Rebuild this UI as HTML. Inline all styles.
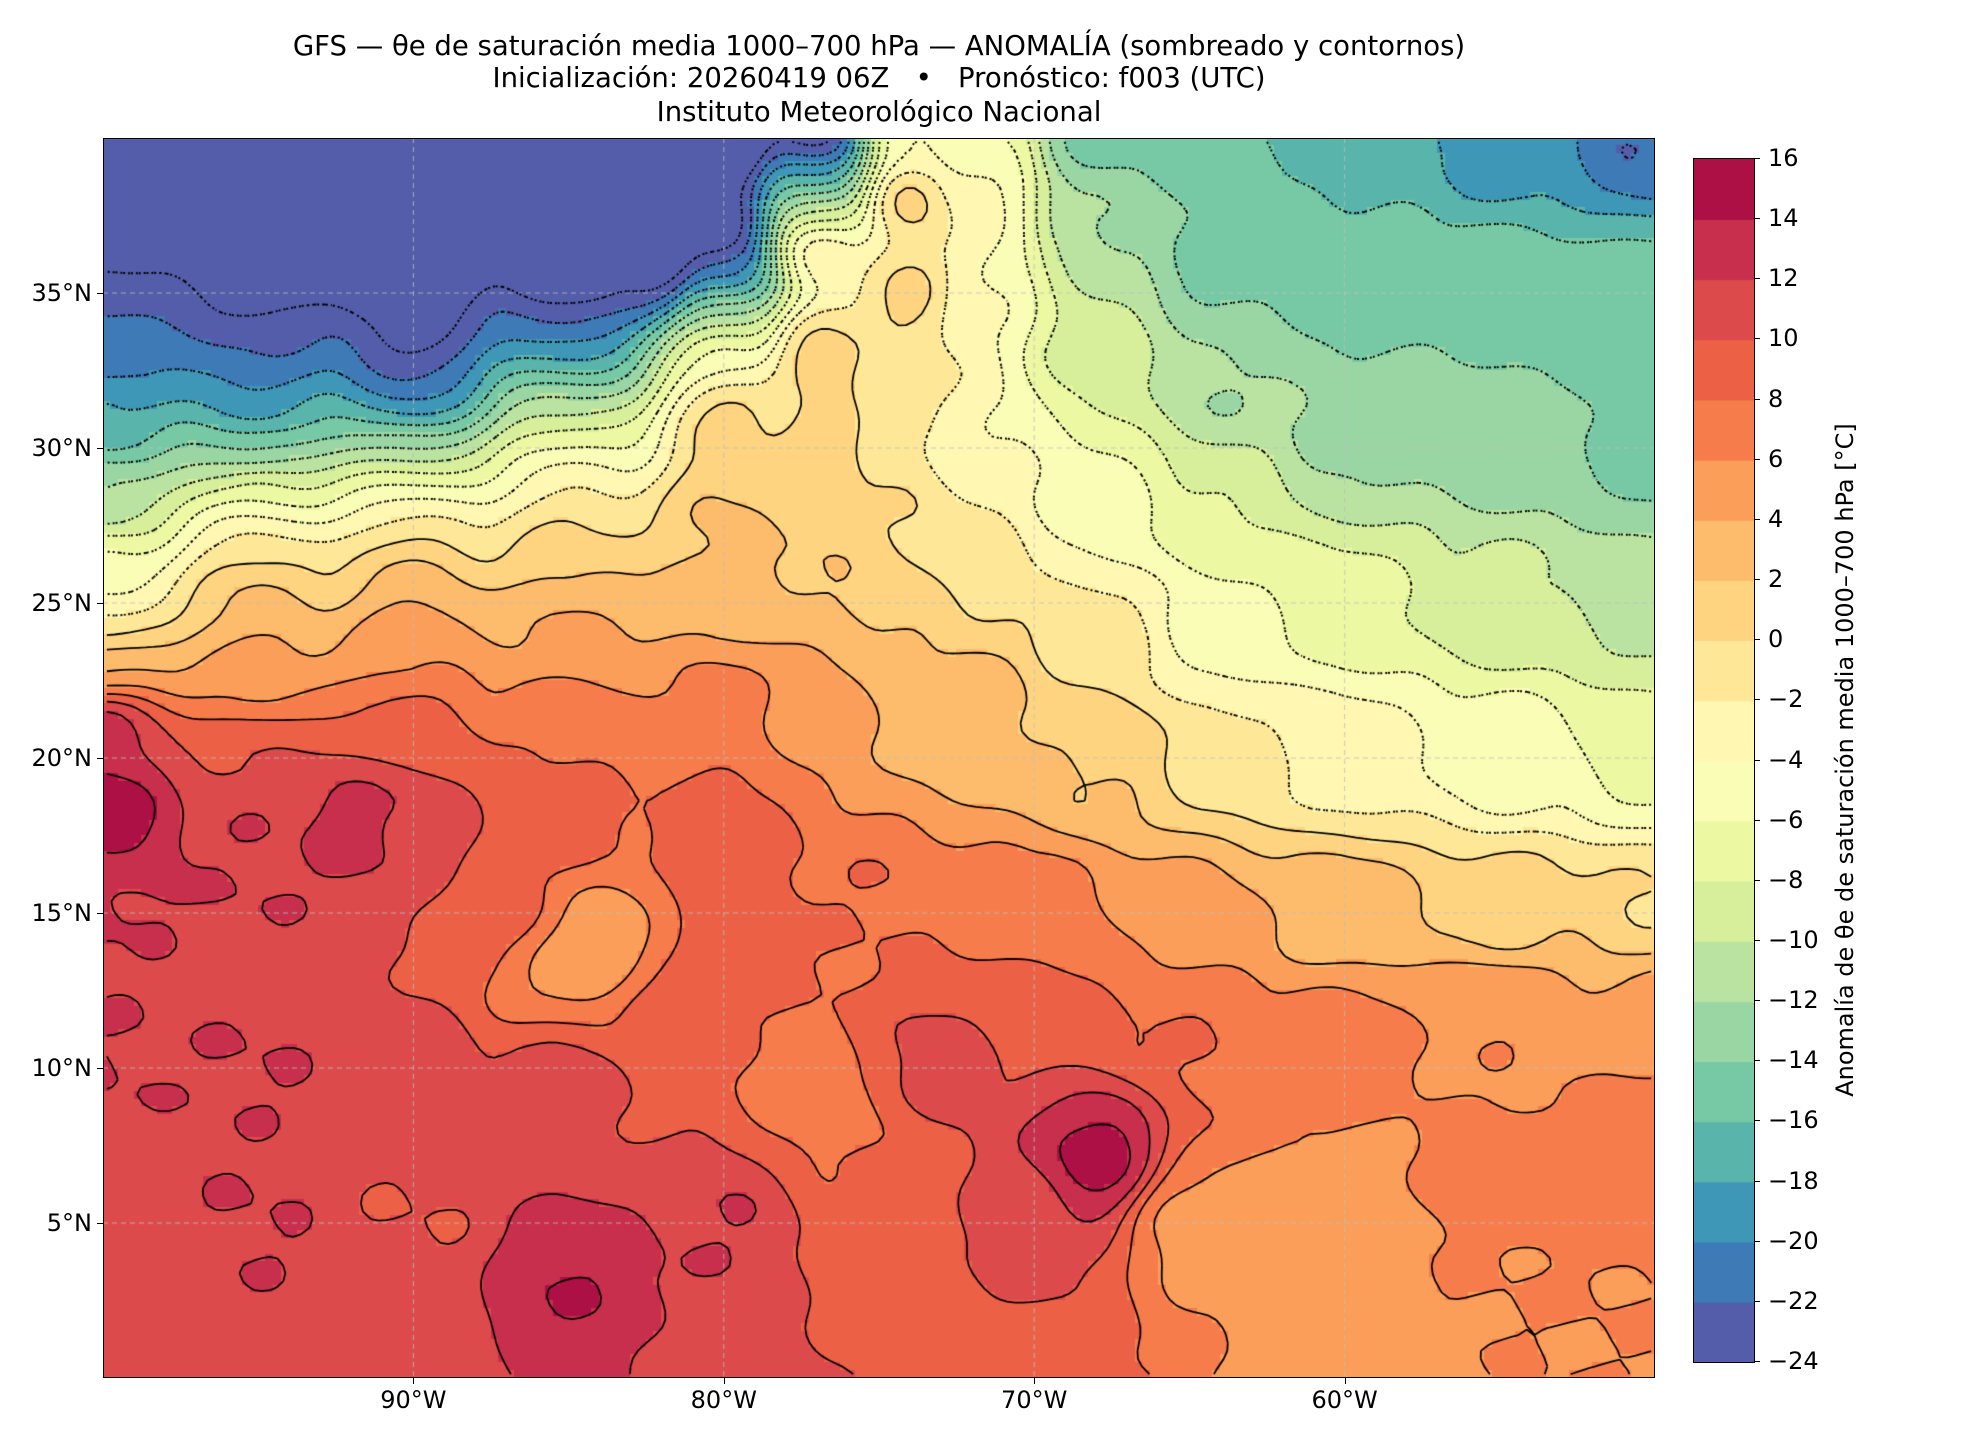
<!DOCTYPE html>
<html><head><meta charset="utf-8">
<style>
body{margin:0;background:#fff;width:1980px;height:1440px;position:relative;overflow:hidden;font-family:"DejaVu Sans","Liberation Sans",sans-serif;}
.t{position:absolute;left:0;width:1758px;text-align:center;font-size:27.5px;color:#000;line-height:32px;}
#plot{position:absolute;left:103px;top:138px;width:1552px;height:1240px;border:1.5px solid #000;box-sizing:border-box;}
canvas{position:absolute;}
.yl{position:absolute;font-size:24px;right:1888px;}
.xl{position:absolute;font-size:24px;top:1386px;width:120px;text-align:center;}
.cl{position:absolute;left:1768px;font-size:24px;}
</style></head><body>
<div class="t" style="top:30px">GFS — θe de saturación media 1000–700 hPa — ANOMALÍA (sombreado y contornos)</div>
<div class="t" style="top:62px">Inicialización: 20260419 06Z &nbsp; • &nbsp; Pronóstico: f003 (UTC)</div>
<div class="t" style="top:96px">Instituto Meteorológico Nacional</div>
<canvas id="c" width="1552" height="1240" style="left:103px;top:138px"></canvas>
<div id="plot"></div>
<canvas id="cb" width="60" height="1203" style="left:1693px;top:158px;border:1px solid #000"></canvas>
<div id="lab"></div>
<div style="position:absolute;left:1845px;top:760px;transform:translate(-50%,-50%) rotate(-90deg);font-size:24px;white-space:nowrap">Anomalía de θe de saturación media 1000–700 hPa [°C]</div>
<script>
var sp=[[94,79,162],[50,136,189],[102,194,165],[171,221,164],[230,245,152],[255,255,191],[254,224,139],[253,174,97],[244,109,67],[213,62,79],[158,1,66]];
function cmap(t){t=Math.max(0,Math.min(1,t))*10;var i=Math.min(9,Math.floor(t)),f=t-i,a=sp[i],b=sp[i+1];return 'rgb('+Math.round(a[0]+(b[0]-a[0])*f)+','+Math.round(a[1]+(b[1]-a[1])*f)+','+Math.round(a[2]+(b[2]-a[2])*f)+')';}
function lvcol(v){var k=Math.floor((v+24)/2);k=Math.max(0,Math.min(19,k));return cmap((k+0.5)/20);}
var P=[
[-100,40,-30],[-100,38,-30],[-100,36.5,-26],[-100,35,-22],[-100,33,-21],[-100,31,-18],[-100,28.5,-12],[-100,26,-6],[-100,24.5,-2],[-100,23,4],[-100,21,14],[-100,18,16],[-100,16,12],
[-95,40,-30],[-95,37,-30],[-95,34.5,-25],[-95,33,-22],[-95,31.5,-20],[-95,30,-15],[-95,28.5,-6],[-95,27,-1],[-95,25.5,3],[-95,23,5],[-95,20,10],[-95,18,12],
[-90,40,-30],[-90,36,-30],[-90,33.5,-26],[-90,32.3,-23],[-90,31.3,-20],[-90,30,-13],[-90,29,-6],[-90,28,-2],[-90,27,1],[-90,25.8,4],[-90,24,6],[-90,21,9],[-90,18,12],
[-85,40,-30],[-85,36,-30],[-85,34,-24],[-85,33,-18],[-85,31.5,-12],[-85,30.3,-6],[-85,29,-2],[-85,27.5,0.5],[-85,26,2.5],[-85,24,5],[-85,21,8],[-85,18,9],
[-82,38,-30],[-82,36,-27],
[-80,40,-30],[-80,37,-28],[-80,35.5,-22],[-80,34.3,-12],[-80,33.3,-3],[-80,31,1.5],[-80,28,2.5],[-80,25,3.5],[-80,22,7],[-80,18,9],
[-77,40,-28],[-77,38.7,-20],[-77,37.7,-8],[-77,36.5,0],[-77,33,2],[-77,30,1],[-77,26,2],[-77,22,5],
[-74,40,-4],[-74,38,2.5],[-74,35,1.5],[-74,32,-1],[-74,28,0],[-74,24,2],
[-72,40,-6],[-72,38,-3],[-72,35,-4],[-72,30,-4],[-72,26,-1],[-72,22,3],
[-68,40,-15],[-68,37,-12],[-68,33,-9],[-68,28,-5],[-68,24,-1],[-68,20,2],
[-64,40,-16],[-64,36,-15],[-64,32,-12],[-64,28,-8],[-64,24,-5],[-64,20,-1],
[-60,40,-17],[-60,35,-15],[-60,30,-12.5],[-60,25,-7.5],[-60,20,-3],
[-55,40,-19],[-55,35,-15],[-55,30,-13],[-55,25,-9.5],[-55,20,-5],
[-50,40,-22],[-50,35,-15],[-50,30,-15],[-50,25,-11],[-50,20,-7],
[-50,15,0],[-55,15,1],[-60,15,3],[-65,15,5],[-70,15,7],[-75,15,8],[-80,15,9],
[-50,12,5],[-55,12,6],[-60,11,7],[-65,11,8],[-70,12,9],[-73,10,11],[-77,9,7],[-75,7,8],
[-50,8,7],[-55,6,7],[-60,5,5],[-65,5,5],[-68,7,15],[-70,5,11],[-75,4,9],[-80,5,12],[-85,3,14],[-90,5,10],[-95,5,12],[-100,5,11],[-100,0,11],[-90,0,11],[-80,0,11],[-70,0,9],[-60,0,5],[-50,0,6],[-55,3,6],
[-85,10,11],[-90,10,11],[-95,10,12],[-100,10,12],[-85,13,5],[-84,14,4],[-87,15,9],[-82,12,9],[-92,18,13],[-95,16,12]];
function F(lo,la){var s=0,w=0;for(var i=0;i<P.length;i++){var dx=lo-P[i][0],dy=la-P[i][1],d=dx*dx+dy*dy;var q=1/Math.pow(d+1.5,2);s+=q*P[i][2];w+=q;}
return s/w+0.35*Math.sin(lo*1.3+la*0.7)*Math.cos(la*1.9-lo*0.5);}
var R=4,NX=50*R,NY=40*R,g=[];
for(var j=0;j<NY;j++){g[j]=[];for(var i=0;i<NX;i++)g[j][i]=F(-100+(i+0.5)/R,40-(j+0.5)/R);}
var c=document.getElementById('c').getContext('2d');var cw=1552/NX,ch=1240/NY;
for(var j=0;j<NY;j++)for(var i=0;i<NX;i++){c.fillStyle=lvcol(g[j][i]);c.fillRect(Math.floor(i*cw),Math.floor(j*ch),Math.ceil(cw)+1,Math.ceil(ch)+1);}
c.strokeStyle='rgba(190,190,190,0.8)';c.lineWidth=1;c.setLineDash([5,4]);
[-90,-80,-70,-60].forEach(function(l){var x=(l+100)*31.04;c.beginPath();c.moveTo(x,0);c.lineTo(x,1240);c.stroke();});
[5,10,15,20,25,30,35].forEach(function(l){var y=(40-l)*31;c.beginPath();c.moveTo(0,y);c.lineTo(1552,y);c.stroke();});
c.strokeStyle='#000';
function X(i){return (i+0.5)*cw;}function Y(j){return (j+0.5)*ch;}
for(var L=-24;L<=16;L+=2){c.beginPath();
for(var j=0;j<NY-1;j++)for(var i=0;i<NX-1;i++){
var a=g[j][i],b=g[j][i+1],d=g[j+1][i],e=g[j+1][i+1];var pts=[];
if((a<L)!=(b<L))pts.push([X(i)+cw*(L-a)/(b-a),Y(j)]);
if((b<L)!=(e<L))pts.push([X(i+1),Y(j)+ch*(L-b)/(e-b)]);
if((d<L)!=(e<L))pts.push([X(i)+cw*(L-d)/(e-d),Y(j+1)]);
if((a<L)!=(d<L))pts.push([X(i),Y(j)+ch*(L-a)/(d-a)]);
if(pts.length>=2){c.moveTo(pts[0][0],pts[0][1]);c.lineTo(pts[1][0],pts[1][1]);}
if(pts.length==4){c.moveTo(pts[2][0],pts[2][1]);c.lineTo(pts[3][0],pts[3][1]);}}
if(L<0){c.setLineDash([2,3]);c.lineWidth=2;}else{c.setLineDash([]);c.lineWidth=1.8;}
c.stroke();}
var b=document.getElementById('cb').getContext('2d');
for(var k=0;k<20;k++){b.fillStyle=cmap((k+0.5)/20);b.fillRect(0,1203-(k+1)*60.15,60,61);}
var h='';
[[-90,'90°W'],[-80,'80°W'],[-70,'70°W'],[-60,'60°W']].forEach(function(p){var x=103+(p[0]+100)*31.04;h+='<div class="xl" style="left:'+(x-60)+'px">'+p[1]+'</div><div style="position:absolute;left:'+x+'px;top:1378px;width:1px;height:6px;background:#000"></div>';});
[5,10,15,20,25,30,35].forEach(function(l){var y=138+(40-l)*31;h+='<div class="yl" style="top:'+(y-14)+'px">'+l+'°N</div><div style="position:absolute;left:97px;top:'+y+'px;width:6px;height:1px;background:#000"></div>';});
for(var v=-24;v<=16;v+=2){var y=158+(16-v)/2*60.15;h+='<div class="cl" style="top:'+(y-14)+'px">'+(v<0?'−'+(-v):v)+'</div><div style="position:absolute;left:1754px;top:'+y+'px;width:6px;height:1px;background:#000"></div>';}
document.getElementById('lab').innerHTML=h;
</script>
</body></html>
